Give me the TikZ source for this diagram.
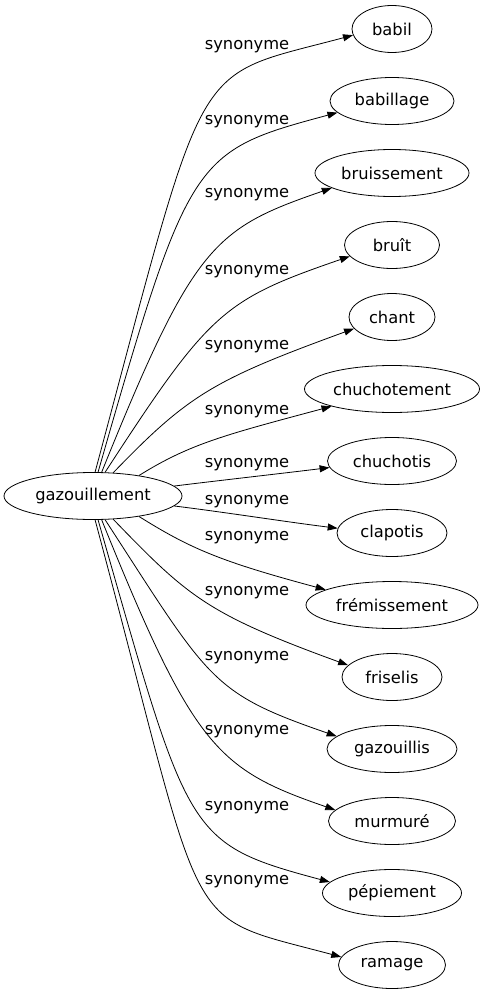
\documentclass[tikz,border=0pt]{standalone}
\usepackage{fontspec}
\setmainfont{DejaVu Sans}
\usetikzlibrary{arrows.meta, shapes.geometric}

\begin{document}
\begin{tikzpicture}[x=1pt, y=1pt, font=\fontsize{16.3}{19}\selectfont,
    word/.style={ellipse, draw, line width=0.8pt, inner sep=0pt, minimum height=47pt},
    syn/.style={-{Triangle[length=10pt, width=7pt]}, line width=0.8pt}]
    % Frame
    \useasboundingbox (0,0) rectangle (485,-995);
    % Root word
    \node[word, minimum width=178pt] (root) at (93,-496) {gazouillement};
    % Synonyms
    \foreach \n/\t/\y/\w in {babil/babil/29/80, babillage/babillage/101/124,
        bruissement/bruissement/173/154, bruit/bruît/245/95, chant/chant/317/86,
        chuchotement/chuchotement/389/175, chuchotis/chuchotis/461/129,
        clapotis/clapotis/533/110, fremissement/frémissement/605/172,
        friselis/friselis/677/100, gazouillis/gazouillis/749/130,
        murmure/murmuré/821/127, pepiement/pépiement/893/139, ramage/ramage/965/107}
    {
        \node[word, minimum width=\w pt] (\n) at (392,-\y) {\t};
    }
    % Edge labels
    \foreach \y [count=\i] in {47,122,195,272,347,412,465,502,538,593,658,732,808,882}
    {
        \node (lab\i) at (247,-\y) {synonyme};
    }
    % Edges
    \foreach \n/\sa/\a/\la/\b/\lb/\ea in {babil/85/75/440/195/170/189,
        babillage/78/74/330/195/150/192, bruissement/70/68/246/199/125/194,
        bruit/63/57/192/199/134/195, chant/49/46/108/200/150/197,
        chuchotement/24/32/60/195/110/196, chuchotis/7/7/50/187/50/186,
        clapotis/-7/-7/50/173/50/175, fremissement/-24/-32/60/165/110/167,
        friselis/-49/-46/108/160/150/165, gazouillis/-63/-57/192/161/134/167,
        murmure/-70/-68/246/161/125/169, pepiement/-78/-74/330/165/150/170,
        ramage/-85/-75/440/165/170/171}
    {
        \draw[syn] (root.\sa) .. controls +(\a:\la) and +(\b:\lb) .. (\n.\ea);
    }
\end{tikzpicture}
\end{document}
